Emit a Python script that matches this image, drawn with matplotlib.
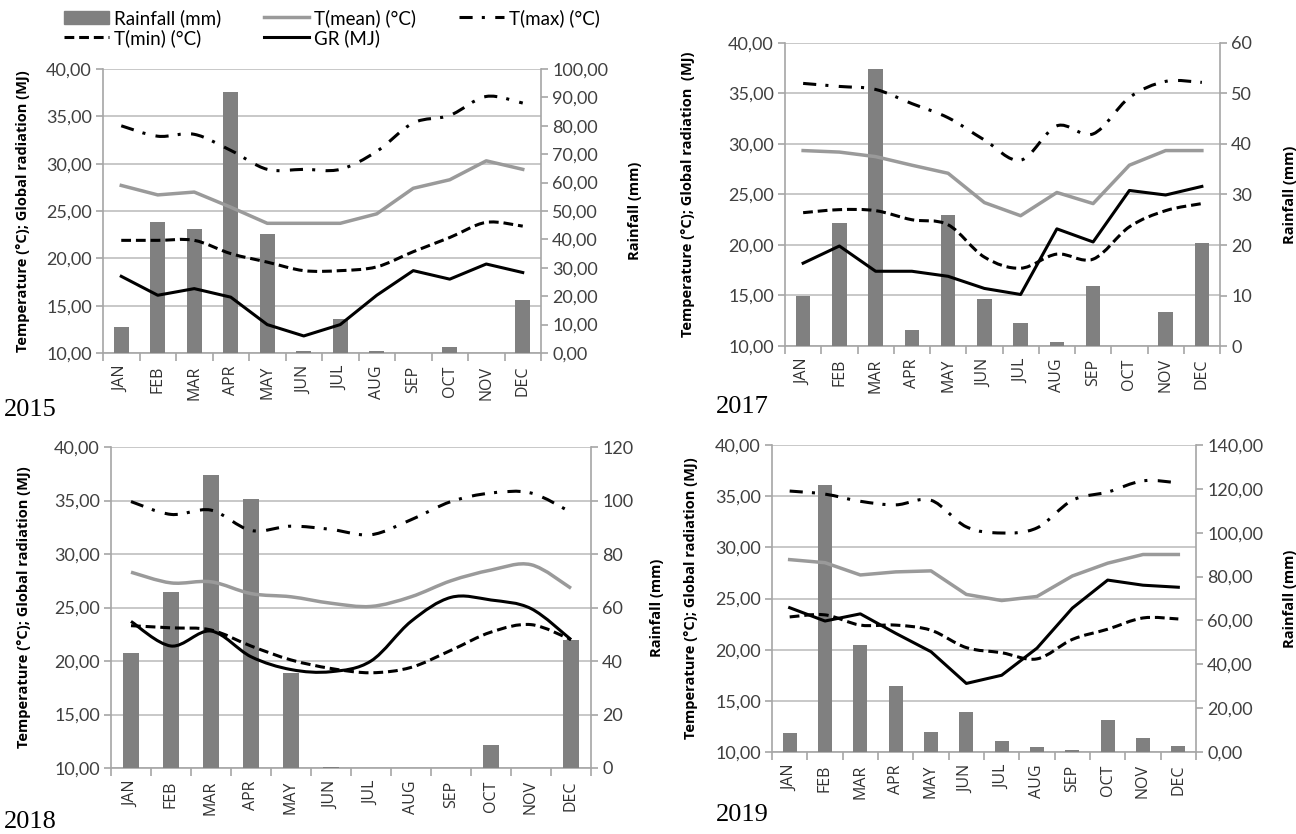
import matplotlib
matplotlib.use("Agg")
import matplotlib.pyplot as plt
from matplotlib.ticker import MultipleLocator, FuncFormatter, FixedLocator
from matplotlib.lines import Line2D
from matplotlib.patches import Patch, PathPatch
from matplotlib.path import Path
import numpy as np

months = ["JAN", "FEB", "MAR", "APR", "MAY", "JUN", "JUL", "AUG", "SEP", "OCT", "NOV", "DEC"]

rain_2015 = [9.0, 46.0, 43.7, 91.9, 42.0, 0.6, 11.8, 0.6, 0.0, 2.0, 0.0, 18.8]
tmean_2015 = [27.7, 26.7, 27.0, 25.4, 23.7, 23.7, 23.7, 24.7, 27.4, 28.3, 30.3, 29.4]
tmax_2015 = [34.0, 32.9, 33.1, 31.4, 29.4, 29.4, 29.4, 31.3, 34.3, 35.1, 37.1, 36.4]
tmin_2015 = [21.9, 21.9, 21.9, 20.5, 19.6, 18.7, 18.7, 19.1, 20.7, 22.2, 23.8, 23.4]
gr_2015 = [18.1, 16.1, 16.8, 15.9, 13.0, 11.8, 13.0, 16.1, 18.7, 17.8, 19.4, 18.5]

rain_2017 = [10.0, 24.3, 54.8, 3.2, 25.9, 9.4, 4.6, 0.7, 11.9, 0.0, 6.7, 20.3]
tmean_2017 = [29.35, 29.2, 28.75, 27.9, 27.1, 24.2, 22.9, 25.2, 24.1, 27.9, 29.35, 29.35]
tmax_2017 = [36.0, 35.7, 35.4, 34.0, 32.6, 30.4, 28.4, 31.8, 31.0, 34.6, 36.2, 36.1]
tmin_2017 = [23.2, 23.5, 23.4, 22.5, 22.0, 18.8, 17.7, 19.1, 18.6, 21.8, 23.4, 24.1]
gr_2017 = [18.2, 19.9, 17.4, 17.4, 16.9, 15.7, 15.1, 21.6, 20.3, 25.4, 24.95, 25.8]

rain_2018 = [42.9, 65.9, 109.5, 100.4, 35.7, 0.4, 0.0, 0.0, 0.0, 8.7, 0.0, 48.0]
tmean_2018 = [28.3, 27.3, 27.4, 26.3, 26.0, 25.4, 25.1, 26.0, 27.5, 28.5, 29.0, 26.8]
tmax_2018 = [34.9, 33.7, 34.1, 32.2, 32.6, 32.3, 31.8, 33.2, 34.9, 35.7, 35.7, 33.9]
tmin_2018 = [23.3, 23.1, 22.9, 21.4, 20.1, 19.3, 18.9, 19.4, 21.0, 22.7, 23.4, 22.0]
gr_2018 = [23.7, 21.4, 22.8, 20.4, 19.2, 19.0, 20.0, 23.7, 25.95, 25.7, 24.9, 22.0]

rain_2019 = [8.7, 121.8, 48.9, 29.9, 9.0, 18.2, 5.2, 2.3, 0.9, 14.4, 6.4, 2.9]
tmean_2019 = [28.8, 28.5, 27.3, 27.6, 27.7, 25.4, 24.8, 25.2, 27.2, 28.45, 29.3, 29.3]
tmax_2019 = [35.5, 35.2, 34.5, 34.15, 34.6, 32.0, 31.4, 31.9, 34.6, 35.4, 36.5, 36.3]
tmin_2019 = [23.2, 23.4, 22.4, 22.4, 21.9, 20.2, 19.7, 19.1, 21.0, 22.0, 23.1, 23.0]
gr_2019 = [24.1, 22.8, 23.5, 21.6, 19.8, 16.7, 17.5, 20.15, 24.06, 26.8, 26.3, 26.1]

W, H = 1296, 834
fig = plt.figure(figsize=(W / 100, H / 100), dpi=100)

GRID = "#BFBFBF"
SPINE = "#A6A6A6"
BAR = "#808080"
MEAN = "#9A9A9A"
TXT = "#404040"
TICKFONT = "Lato"
LABFONT = "Open Sans"
LW = 2.2
TMAX_DASH = (4.3, 3.0, 1.0, 3.4)
TMIN_DASH = (3.2, 1.6)


def rect(x0, y0, x1, y1):
    return [x0 / W, 1 - y1 / H, (x1 - x0) / W, (y1 - y0) / H]


def comma(dec):
    return FuncFormatter(lambda v, p: f"{v:.{dec}f}".replace(".", ","))


def smooth_path(xs, ys):
    pts = np.column_stack([xs, ys]).astype(float)
    n = len(pts)
    verts = [pts[0]]
    codes = [Path.MOVETO]
    for i in range(n - 1):
        p0 = pts[i - 1] if i > 0 else pts[i]
        p1 = pts[i]
        p2 = pts[i + 1]
        p3 = pts[i + 2] if i + 2 < n else pts[i + 1]
        verts += [p1 + (p2 - p0) / 6.0, p2 - (p3 - p1) / 6.0, p2]
        codes += [Path.CURVE4] * 3
    return Path(verts, codes)


def draw(ax, xs, ys, smooth, color, lw, dashes=None):
    if smooth:
        ls = (0, dashes) if dashes else "solid"
        ax.add_patch(PathPatch(smooth_path(xs, ys), fill=False, edgecolor=color,
                               lw=lw, linestyle=ls, joinstyle="round"))
    else:
        if dashes:
            ax.plot(xs, ys, color=color, lw=lw, dashes=dashes)
        else:
            ax.plot(xs, ys, color=color, lw=lw, solid_joinstyle="round")


def panel(px, rain, tmean, tmax, tmin, gr, rmax, rstep, rdec, ylx, yrx,
          year, yearxy, ylabel, smooth):
    x0, y0, x1, y1 = px
    ax = fig.add_axes(rect(*px))
    ax2 = ax.twinx()
    ax3 = fig.add_axes(rect(*px), sharex=ax, sharey=ax)
    ax3.axis("off")
    ax3.patch.set_visible(False)
    ax2.patch.set_visible(False)

    x = np.arange(12)
    ax.set_xlim(-0.5, 11.5)
    ax.set_ylim(10, 40)
    ax.yaxis.set_major_locator(MultipleLocator(5))
    ax.yaxis.set_major_formatter(comma(2))
    ax.yaxis.grid(True, color=GRID, lw=1.2)
    ax.set_axisbelow(True)
    for s in ["top", "right"]:
        ax.spines[s].set_visible(False)
    for s in ["left", "bottom"]:
        ax.spines[s].set_color(SPINE)
        ax.spines[s].set_linewidth(1.2)
    ax.tick_params(axis="y", colors=SPINE, length=5, width=1.2, labelcolor=TXT,
                   labelsize=13, pad=3)
    for t in ax.get_yticklabels():
        t.set_fontfamily(TICKFONT)

    ax.set_xticks(x)
    ax.set_xticklabels(months, rotation=90, fontsize=11.5, fontfamily=LABFONT, color="#303030")
    ax.xaxis.set_minor_locator(FixedLocator(np.arange(-0.5, 12, 1)))
    ax.tick_params(axis="x", which="major", length=0, pad=9)
    ax.tick_params(axis="x", which="minor", length=6, width=1.2, color=SPINE)

    ax2.set_ylim(0, rmax)
    ax2.yaxis.set_major_locator(MultipleLocator(rstep))
    ax2.yaxis.set_major_formatter(comma(rdec))
    for s in ["top", "left", "bottom"]:
        ax2.spines[s].set_visible(False)
    ax2.spines["right"].set_color(SPINE)
    ax2.spines["right"].set_linewidth(1.2)
    ax2.tick_params(axis="y", colors=SPINE, length=5, width=1.2, labelcolor=TXT,
                    labelsize=13, pad=3)
    for t in ax2.get_yticklabels():
        t.set_fontfamily(TICKFONT)

    ax2.bar(x, rain, width=0.4, color=BAR, zorder=2)

    s_mean, s_max, s_min, s_gr = smooth
    draw(ax3, x, tmean, s_mean, MEAN, LW + 0.3)
    draw(ax3, x, tmax, s_max, "black", LW, TMAX_DASH)
    draw(ax3, x, tmin, s_min, "black", LW, TMIN_DASH)
    draw(ax3, x, gr, s_gr, "black", LW)

    ax.set_ylabel(ylabel, fontsize=10.5, fontweight="bold", fontfamily=LABFONT)
    ax.yaxis.set_label_coords((ylx - x0) / (x1 - x0), 0.5)
    ax2.set_ylabel("Rainfall (mm)", fontsize=10.5, fontweight="bold", fontfamily=LABFONT)
    ax2.yaxis.set_label_coords((yrx - x0) / (x1 - x0), 0.5)

    fig.text(yearxy[0] / W, 1 - yearxy[1] / H, year, fontsize=19,
             fontfamily="Liberation Serif", va="center", ha="left")
    return ax


panel((103, 69, 541, 353), rain_2015, tmean_2015, tmax_2015, tmin_2015, gr_2015,
      100, 10, 2, 30, 628, "2015", (4, 410),
      "Temperature (°C); Global radiation (MJ)", (False, True, True, False))
panel((785, 43, 1220, 346), rain_2017, tmean_2017, tmax_2017, tmin_2017, gr_2017,
      60, 10, 0, 695, 1283, "2017", (716, 407),
      "Temperature (°C); Global radiation  (MJ)", (False, True, True, False))
panel((111, 447, 591, 768), rain_2018, tmean_2018, tmax_2018, tmin_2018, gr_2018,
      120, 20, 0, 31, 650, "2018", (4, 822),
      "Temperature (°C); Global radiation (MJ)", (True, True, True, True))
panel((772, 445, 1196, 752), rain_2019, tmean_2019, tmax_2019, tmin_2019, gr_2019,
      140, 20, 2, 698, 1283, "2019", (716, 815),
      "Temperature (°C); Global radiation (MJ)", (False, True, True, False))

handles = [
    Patch(color=BAR),
    Line2D([], [], color="black", lw=LW, dashes=TMIN_DASH),
    Line2D([], [], color=MEAN, lw=LW + 0.3),
    Line2D([], [], color="black", lw=LW),
    Line2D([], [], color="black", lw=LW, dashes=TMAX_DASH),
]
labels = ["Rainfall (mm)", "T(min) (°C)", "T(mean) (°C)", "GR (MJ)", "T(max) (°C)"]
fig.legend(handles, labels, loc="upper left", bbox_to_anchor=(64 / W, 1 - 9 / H),
           ncol=3, frameon=False, prop={"family": TICKFONT, "size": 13.5},
           handlelength=2.4, handletextpad=0.25, columnspacing=2.3,
           labelspacing=0.1, borderpad=0, borderaxespad=0)

fig.savefig("out.png", dpi=100)
